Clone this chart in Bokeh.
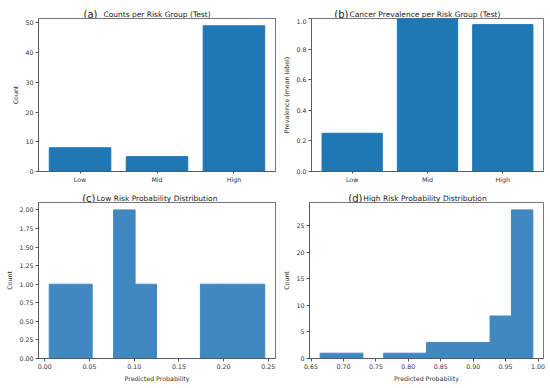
from bokeh.plotting import figure
from bokeh.layouts import row, column
from bokeh.models import FixedTicker, PrintfTickFormatter, Range1d
from bokeh.core.properties import value
from bokeh.embed import file_html
from bokeh.resources import INLINE

# ---- data ----
groups = ["Low", "Mid", "High"]
group_pos = [0, 1, 2]
group_counts = [8, 5, 49]
group_prevalence = [0.25, 1.0, 0.96]

low_edges = [0.005, 0.029, 0.053, 0.077, 0.101, 0.125, 0.150, 0.174, 0.198, 0.222, 0.246]
low_counts = [1, 1, 0, 2, 1, 0, 0, 1, 1, 1]
high_edges = [0.664, 0.697, 0.730, 0.762, 0.795, 0.828, 0.861, 0.894, 0.926, 0.959, 0.992]
high_counts = [1, 1, 0, 1, 1, 3, 3, 3, 8, 28]

count_ticks = [0, 10, 20, 30, 40, 50]
prev_ticks = [0.0, 0.2, 0.4, 0.6, 0.8, 1.0]
low_x_ticks = [0.00, 0.05, 0.10, 0.15, 0.20, 0.25]
low_y_ticks = [0.0, 0.25, 0.5, 0.75, 1.0, 1.25, 1.5, 1.75, 2.0]
high_x_ticks = [0.65, 0.70, 0.75, 0.80, 0.85, 0.90, 0.95, 1.00]
high_y_ticks = [0, 5, 10, 15, 20, 25]

titles = ["Counts per Risk Group (Test)",
          "Cancer Prevalence per Risk Group (Test)",
          "Low Risk Probability Distribution",
          "High Risk Probability Distribution"]
tags = ["(a)", "(b)", "(c)", "(d)"]

BAR = "#1f77b4"
HIST = "#3f88c0"
TXT = "#333333"
FONT = "DejaVu Sans"
TICK_FS = "6.3px"


def make_fig(w, h, bl, br, bt, bb, xr, yr, xtick_out=3):
    p = figure(width=w, height=h, output_backend="svg", toolbar_location=None,
               x_range=xr, y_range=Range1d(*yr),
               min_border_left=bl, min_border_right=br,
               min_border_top=bt, min_border_bottom=bb)
    p.title.visible = False
    p.grid.visible = False
    p.outline_line_color = "#555555"
    p.outline_line_width = 0.8
    for ax in (p.xaxis[0], p.yaxis[0]):
        ax.axis_line_color = "#555555"
        ax.axis_line_width = 0.8
        ax.major_tick_line_color = "#555555"
        ax.major_tick_out = 3
        ax.major_tick_in = 0
        ax.minor_tick_line_color = None
        ax.major_label_text_font = FONT
        ax.major_label_text_font_size = TICK_FS
        ax.major_label_text_color = TXT
        ax.major_label_standoff = 2
        ax.axis_label_text_font = FONT
        ax.axis_label_text_font_size = TICK_FS
        ax.axis_label_text_font_style = "normal"
        ax.axis_label_text_color = TXT
        ax.axis_label_standoff = 3
    p.xaxis.major_tick_out = xtick_out
    return p


def title_strip(w, h, bl, br, xr, title, tag, tag_dx, base):
    t = figure(width=w, height=h, output_backend="svg", toolbar_location=None,
               x_range=xr, y_range=Range1d(0, 1),
               x_axis_location=None, y_axis_location=None,
               min_border_left=bl, min_border_right=br,
               min_border_top=0, min_border_bottom=0)
    t.title.visible = False
    t.outline_line_color = None
    t.grid.visible = False
    cx = (xr.start + xr.end) / 2
    t.text(x=[cx], y=[0], text=[title], text_align="center", text_baseline="alphabetic",
           text_font=value(FONT), text_font_size="7.5px", text_color="#222222",
           y_offset=-base)
    t.text(x=[cx], y=[0], text=[tag], text_align="right", text_baseline="alphabetic",
           text_font=value(FONT), text_font_size="10px", text_color="#222222",
           x_offset=tag_dx, y_offset=-base)
    return t


# shared x ranges
xa = Range1d(-0.54, 2.54)
xb = Range1d(-0.54, 2.54)
xc = Range1d(-0.007, 0.258)
xd = Range1d(0.6476, 1.0084)

# (a) counts
pa = make_fig(280, 167, 38, 5, 0, 11, xa, (0, 51.45), xtick_out=2)
pa.vbar(x=group_pos, top=group_counts, width=0.8, color=BAR)
pa.xaxis.ticker = FixedTicker(ticks=group_pos)
pa.xaxis.major_label_overrides = {g: n for g, n in zip(group_pos, groups)}
pa.yaxis.ticker = FixedTicker(ticks=count_ticks)
pa.yaxis.axis_label = "Count"
ta = title_strip(280, 18, 38, 5, xa, titles[0], tags[0], -59.5, 4.5)

# (b) prevalence
pb = make_fig(270, 167, 26, 7, 0, 11, xb, (0, 1.0), xtick_out=2)
pb.vbar(x=group_pos, top=group_prevalence, width=0.8, color=BAR)
pb.xaxis.ticker = FixedTicker(ticks=group_pos)
pb.xaxis.major_label_overrides = {g: n for g, n in zip(group_pos, groups)}
pb.yaxis.ticker = FixedTicker(ticks=prev_ticks)
pb.yaxis.formatter = PrintfTickFormatter(format="%.1f")
pb.yaxis.axis_label = "Prevalence (mean label)"
tb = title_strip(270, 18, 26, 7, xb, titles[1], tags[1], -76.5, 4.5)

# (c) low risk histogram
pc = make_fig(280, 186, 38, 5, 0, 30, xc, (0, 2.1))
pc.quad(left=low_edges[:-1], right=low_edges[1:], bottom=0, top=low_counts,
        fill_color=HIST, line_color=HIST, line_width=1)
pc.xaxis.ticker = FixedTicker(ticks=low_x_ticks)
pc.xaxis.formatter = PrintfTickFormatter(format="%.2f")
pc.yaxis.ticker = FixedTicker(ticks=low_y_ticks)
pc.yaxis.formatter = PrintfTickFormatter(format="%.2f")
pc.xaxis.axis_label = "Predicted Probability"
pc.yaxis.axis_label = "Count"
tc = title_strip(280, 17, 38, 5, xc, titles[2], tags[2], -61.5, 4.5)

# (d) high risk histogram
pd_ = make_fig(270, 186, 26, 7, 0, 30, xd, (0, 29.4))
pd_.quad(left=high_edges[:-1], right=high_edges[1:], bottom=0, top=high_counts,
         fill_color=HIST, line_color=HIST, line_width=1)
pd_.xaxis.ticker = FixedTicker(ticks=high_x_ticks)
pd_.xaxis.formatter = PrintfTickFormatter(format="%.2f")
pd_.yaxis.ticker = FixedTicker(ticks=high_y_ticks)
pd_.xaxis.axis_label = "Predicted Probability"
pd_.yaxis.axis_label = "Count"
td = title_strip(270, 17, 26, 7, xd, titles[3], tags[3], -62.5, 4.5)

layout = column(row(ta, tb), row(pa, pb), row(tc, td), row(pc, pd_))

open("out.html", "w").write(file_html(layout, INLINE))
